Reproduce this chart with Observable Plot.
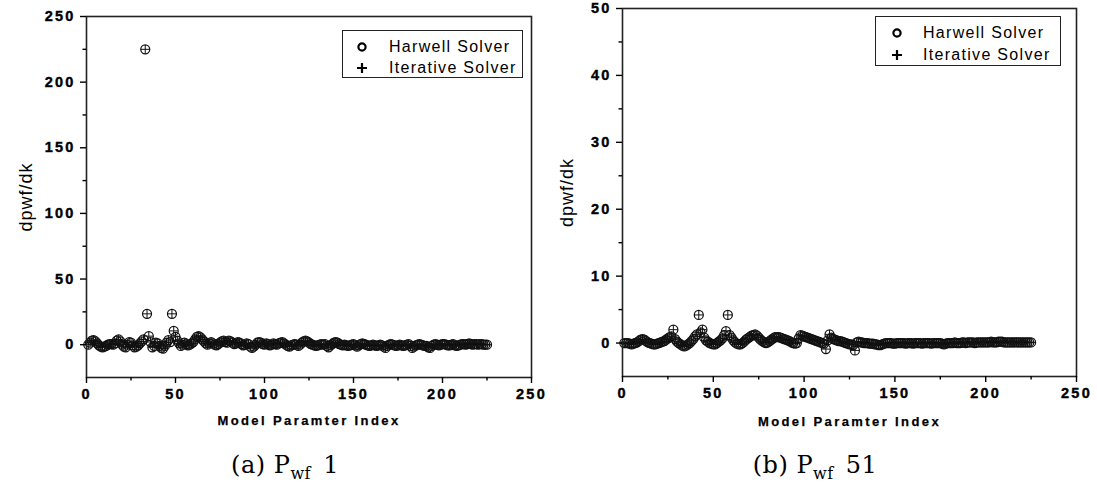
<!DOCTYPE html>
<html><head><meta charset="utf-8">
<script src="https://cdn.jsdelivr.net/npm/d3@7"></script>
<script src="https://cdn.jsdelivr.net/npm/@observablehq/plot@0.6"></script>
<style>
body{margin:0;background:#fff;}
#wrap{position:relative;width:1097px;height:489px;overflow:hidden;font-family:"Liberation Sans",Arial,sans-serif;color:#000;}
.panel{position:absolute;top:0;}
.panel svg{overflow:visible;}
.legend{position:absolute;border:1px solid #222;box-sizing:border-box;background:#fff;}
.legend .row{position:absolute;font-size:16px;letter-spacing:1.3px;white-space:nowrap;line-height:1;}
.legend svg{position:absolute;overflow:visible;}
.caption{position:absolute;font-family:"DejaVu Serif","Liberation Serif",serif;font-size:24px;transform:translate(-50%,-50%);white-space:nowrap;letter-spacing:0.5px;}
.caption .sub{font-size:16px;position:relative;top:6px;margin-right:4px;}
</style>
</head><body>
<div id="wrap"></div>
<script>
// ---- data ----
const paramIndex = d3.range(1, 226); // model parameter index 1..225

// (a) Pwf 1
const harwellA = [0,1.5,3,3.5,2.5,1,-0.5,-1.5,-2,-1.5,
-1,0,0.5,0.5,0,1,3,4,2.5,0,
-1.5,-2,0,2,1.5,-0.5,-2,-1.5,-0.5,1,
2.5,4,225,23.5,6.5,2,-2,-1,1.5,1,
-1,-2.5,-3,-1,1.5,3.5,2,23.5,10.5,6,
3,1,-1,0,1.5,0.5,-0.5,0,1,2,
4,6,6.5,5.5,4,2.5,1,0,1,2,
1,0,-0.5,0.5,1.5,2.5,3,2,1.5,3,
2.5,1.5,0.5,1,2,1.5,0.5,-0.5,0,1,
0.5,-1.5,-2.5,-1.5,0,1.5,2,1.5,0.5,0,
1,0.5,-0.5,0,1,0.5,0,1,1.5,2,
1,0,-1,-1.5,-0.5,0,0.5,0,-1,0,
1.5,2.5,3,2.5,1.5,0.5,0,-0.5,-1,-0.5,
0,0.5,0,0.5,-1,-2,-0.5,0.5,1.5,2,
1.5,0.5,0,-0.5,0,-0.5,-1,-0.5,0,0.5,
-0.5,-1.5,-0.5,0.5,1,0.5,0,-0.5,-1,-0.5,
0,-0.5,-1,-0.5,0,-0.5,-1.5,-2.5,-1,0,
0.5,0,-0.5,-1,-0.5,0,-0.5,-1,-0.5,0,
0.5,-1,-2.5,-1.5,-0.5,0,0.5,0,-0.5,-1,
-1,-2,-2.5,-1,0,0.5,0,-0.5,0,0.5,
0.5,0,-0.5,-0.5,0,0.5,-0.5,-1,-0.5,0,
0.5,0.5,0,0.5,1,0.5,0,0.5,0.5,0,
0.5,0.5,0,0,0];
// iterative solver results coincide with Harwell at this resolution
const iterativeA = harwellA.slice();

// (b) Pwf 51
const harwellB = [0,0,0,-0.1,-0.2,-0.1,0,0.1,0.3,0.5,
0.6,0.5,0.3,0.1,0,-0.1,-0.2,-0.2,-0.1,0,
0.1,0.2,0.3,0.5,0.7,0.9,1.0,2.0,0.6,0.2,
0,-0.2,-0.4,-0.5,-0.4,-0.2,0,0.3,0.6,1.0,
1.3,4.2,1.6,2.0,0.8,0.4,0.2,0,-0.1,-0.2,
-0.2,0,0.2,0.4,0.7,1.2,1.8,4.2,1.2,0.8,
0.4,0.1,-0.1,-0.2,-0.2,0,0.2,0.5,0.7,0.9,
1.1,1.2,1.3,1.1,0.8,0.5,0.3,0.1,0,0.1,
0.3,0.5,0.7,0.9,0.9,0.9,0.8,0.7,0.6,0.5,
0.4,0.3,0.1,0,-0.1,0,0.7,1.2,1.1,1.0,
0.9,0.8,0.7,0.6,0.5,0.4,0.3,0.2,0.1,0,
-0.1,-0.9,0.4,1.3,0.8,0.6,0.5,0.4,0.3,0.3,
0.2,0.1,0,-0.1,-0.2,-0.2,-0.3,-1.1,0.1,0.2,
0.1,0.1,0,0,0,-0.1,-0.1,-0.1,-0.2,-0.2,
-0.3,-0.3,-0.2,-0.1,0,0,0,0,-0.1,-0.1,
0,0,0,0,0,-0.1,0,0,0,-0.1,
0,0,0,0,-0.1,0,0,0,0,-0.1,
0,0,0,0,0,-0.1,-0.2,-0.1,0,0,
0,0,0.1,0,0,0,0.1,0.1,0,0.1,
0.1,0.1,0.1,0,0.1,0.1,0.1,0.1,0.1,0.1,
0.1,0.1,0.2,0.1,0.1,0.1,0.2,0.2,0.2,0.1,
0.1,0.1,0.1,0.1,0.1,0.1,0.1,0.1,0.1,0.1,
0.1,0.1,0.1,0.1,0.1];
const iterativeB = harwellB.slice();

const xTicks = [0, 50, 100, 150, 200, 250];
const xMinor = [25, 75, 125, 175, 225];
const yTicksA = [0, 50, 100, 150, 200, 250];
const yMinorA = [25, 75, 125, 175, 225];
const yTicksB = [0, 10, 20, 30, 40, 50];
const yMinorB = [5, 15, 25, 35, 45];
const seriesNames = ["Harwell Solver", "Iterative Solver"];
const xTitle = "Model Paramter Index";
const yTitle = "dpwf/dk";

function makePanel(cfg) {
  const rows = paramIndex.map((i, k) => ({i, h: cfg.harwell[k], it: cfg.iterative[k]}));
  const svg = Plot.plot({
    width: cfg.width, height: 440,
    marginLeft: cfg.ml, marginRight: cfg.mr, marginTop: cfg.mt, marginBottom: cfg.mb,
    style: {fontFamily: '"Liberation Sans", Arial, sans-serif', fontSize: "14px", color: "#000", background: "transparent"},
    x: {domain: [0, 250]},
    y: {domain: cfg.yDomain},
    marks: [
      Plot.dot(rows, {x: "i", y: "h", r: 4.5, stroke: "#111", strokeWidth: 1.25, fill: "none"}),
      Plot.dot(rows, {x: "i", y: "it", symbol: "plus", r: 2.9, stroke: "#111", strokeWidth: 1}),
      Plot.frame({stroke: "#222", strokeWidth: 1.6}),
      Plot.axisX({ticks: xTicks, tickSize: 6, tickPadding: 5, label: null, strokeWidth: 1.4, fontWeight: "bold", fontSize: 14.5}),
      Plot.axisX({ticks: xMinor, tickSize: 3.5, tickFormat: () => "", label: null, strokeWidth: 1.4}),
      Plot.axisY({ticks: cfg.yTicks, tickSize: 6, tickPadding: 5, label: null, strokeWidth: 1.4, fontWeight: "bold", fontSize: 14.5}),
      Plot.axisY({ticks: cfg.yMinor, tickSize: 3.5, tickFormat: () => "", label: null, strokeWidth: 1.4}),
      Plot.text([xTitle], {text: d => d, frameAnchor: "bottom", dy: cfg.xTitleDy, lineAnchor: "middle", textAnchor: "middle", fontWeight: "bold", fontSize: 13}),
      Plot.text([yTitle], {text: d => d, frameAnchor: "left", dx: cfg.yTitleDx, rotate: -90, textAnchor: "middle", lineAnchor: "middle", fontSize: 18})
    ]
  });
  const sel = d3.select(svg);
  sel.selectAll("text").filter(function(){ return /^-?\d+$/.test(this.textContent); })
    .style("letter-spacing", "2.2px").style("font-weight", "bold")
    .style("stroke", "#000").style("stroke-width", "0.4px");
  sel.selectAll("text").filter(function(){ return this.textContent === xTitle; })
    .style("letter-spacing", "2.4px").style("stroke", "#000").style("stroke-width", "0.25px");
  sel.selectAll("text").filter(function(){ return this.textContent === yTitle; }).style("letter-spacing", "1px");
  const div = document.createElement("div");
  div.className = "panel";
  div.style.left = cfg.left + "px";
  div.appendChild(svg);
  return div;
}

function makeLegend(l) {
  const box = document.createElement("div");
  box.className = "legend";
  Object.assign(box.style, {left: l.x + "px", top: l.y + "px", width: l.w + "px", height: l.h + "px"});
  seriesNames.forEach((name, k) => {
    const cy = l.rows[k];
    const ns = "http://www.w3.org/2000/svg";
    const s = document.createElementNS(ns, "svg");
    s.setAttribute("width", 14); s.setAttribute("height", 14);
    s.style.left = (l.sx - 7) + "px"; s.style.top = (cy - 7) + "px";
    if (k === 0) {
      const c = document.createElementNS(ns, "circle");
      c.setAttribute("cx", 7); c.setAttribute("cy", 7); c.setAttribute("r", 3.6);
      c.setAttribute("fill", "none"); c.setAttribute("stroke", "#000"); c.setAttribute("stroke-width", 2.2);
      s.appendChild(c);
    } else {
      const p = document.createElementNS(ns, "path");
      p.setAttribute("d", "M2,7H12M7,2V12");
      p.setAttribute("stroke", "#000"); p.setAttribute("stroke-width", 2.2);
      s.appendChild(p);
    }
    box.appendChild(s);
    const t = document.createElement("div");
    t.className = "row";
    t.textContent = name;
    t.style.left = l.tx + "px"; t.style.top = (cy - 8) + "px";
    box.appendChild(t);
  });
  return box;
}

function makeCaption(letter, num, cx, cy) {
  const d = document.createElement("div");
  d.className = "caption";
  d.style.left = cx + "px"; d.style.top = cy + "px";
  d.innerHTML = "(" + letter + ") P<span class='sub'>wf</span> " + num;
  return d;
}

const wrap = document.getElementById("wrap");
wrap.appendChild(makePanel({left: 0, width: 548, ml: 86, mr: 17, mt: 16, mb: 63, yDomain: [-25, 250],
  yTicks: yTicksA, yMinor: yMinorA, harwell: harwellA, iterative: iterativeA, xTitleDy: 43, yTitleDx: -60}));
wrap.appendChild(makePanel({left: 548, width: 549, ml: 74, mr: 21, mt: 8, mb: 64, yDomain: [-5, 50],
  yTicks: yTicksB, yMinor: yMinorB, harwell: harwellB, iterative: iterativeB, xTitleDy: 45, yTitleDx: -55}));
wrap.appendChild(makeLegend({x: 342, y: 30, w: 181, h: 48, sx: 19, tx: 46, rows: [16, 37]}));
wrap.appendChild(makeLegend({x: 875, y: 16, w: 186, h: 50, sx: 21, tx: 47, rows: [16, 38]}));
wrap.appendChild(makeCaption("a", "1", 285, 465));
wrap.appendChild(makeCaption("b", "51", 815, 465));
</script>
</body></html>
